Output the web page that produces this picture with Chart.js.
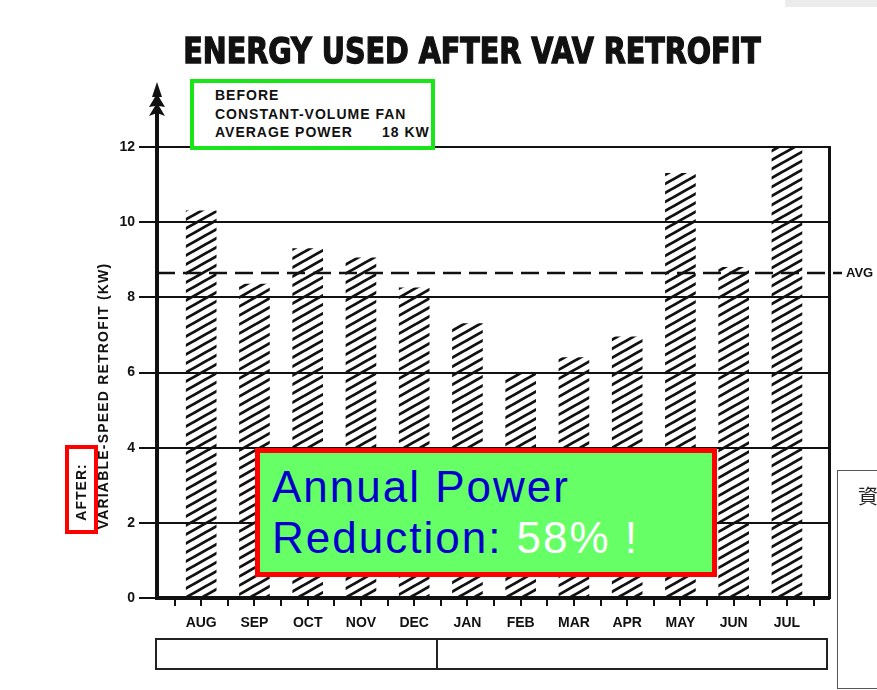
<!DOCTYPE html>
<html>
<head>
<meta charset="utf-8">
<script src="https://cdn.jsdelivr.net/npm/chart.js@4.4.1/dist/chart.umd.min.js"></script>
<style>
  body { margin: 0; width: 877px; height: 690px; overflow: hidden; position: relative; background: #fff;
         font-family: "Liberation Sans", Arial, sans-serif; color: #111; }
  canvas { position: absolute; left: 0; top: 0; }
  .abs { position: absolute; white-space: nowrap; }
  #title { left: 472px; top: 33px; font: bold 36px "DejaVu Sans", sans-serif; line-height: 36px;
           -webkit-text-stroke: 1.4px #111; transform-origin: 50% 50%; }
  .scan { font-weight: bold; font-size: 14px; line-height: 14px; letter-spacing: 1px; }
  #before { left: 190px; top: 79px; width: 237px; height: 63px; border: 4px solid #19e619; background: #fff; }
  #yTitle { left: 103px; top: 396px; letter-spacing: 1.2px; transform: translate(-50%, -50%) rotate(-90deg); }
  #after { left: 81px; top: 492px; transform: translate(-50%, -50%) rotate(-90deg); }
  #afterBox { left: 65px; top: 445px; width: 25px; height: 81px; border: 4px solid #f00; }
  #note { left: 255px; top: 448px; width: 452px; height: 119px; border: 5px solid #f00; background: #66ff66; }
  .big { font-size: 44px; line-height: 44px; letter-spacing: 2px; color: #0000cc; }
  #months { left: 155px; top: 638px; width: 669px; height: 28px; border: 2px solid #222; }
  #months div { position: absolute; left: 279px; top: 0; width: 2px; height: 28px; background: #222; }
  #side { left: 837px; top: 470px; width: 60px; height: 217px; border: 1px solid #555; }
  #side span { position: absolute; left: 20px; top: 10px; font: 20px "Noto Sans CJK TC", sans-serif; color: #222; }
  #strip { left: 785px; top: 0; width: 92px; height: 7px; background: #ececec; }
</style>
</head>
<body>
<canvas id="energyChart" width="877" height="690"></canvas>

<div class="abs" id="strip"></div>
<div class="abs" id="title">ENERGY USED AFTER VAV RETROFIT</div>

<div class="abs" id="before"></div>
<div class="abs scan" style="left:215px; top:88px;">BEFORE</div>
<div class="abs scan" style="left:215px; top:107px;">CONSTANT-VOLUME FAN</div>
<div class="abs scan" style="left:215px; top:125px;">AVERAGE POWER</div>
<div class="abs scan" style="left:382px; top:125px;">18 KW</div>

<div class="abs scan" id="yTitle">VARIABLE-SPEED RETROFIT (KW)</div>
<div class="abs" id="afterBox"></div>
<div class="abs scan" id="after">AFTER:</div>

<div class="abs" id="note"></div>
<div class="abs big" style="left:272px; top:465px;">Annual Power</div>
<div class="abs big" style="left:272px; top:516px;">Reduction: <span style="color:#fff;">58% !</span></div>

<div class="abs" id="months"><div></div></div>
<div class="abs" id="side"><span>資</span></div>

<script>
// data
const months = ['AUG', 'SEP', 'OCT', 'NOV', 'DEC', 'JAN', 'FEB', 'MAR', 'APR', 'MAY', 'JUN', 'JUL'];
const afterKw = [10.3, 8.35, 9.3, 9.05, 8.25, 7.3, 6.0, 6.4, 6.95, 11.3, 8.8, 12.0];
const avgKw = 8.65;
const yTickValues = [0, 2, 4, 6, 8, 10, 12];

// squeeze the heavy title to its printed width
const title = document.getElementById('title');
const sx = 577 / title.offsetWidth;
title.style.transform = 'translateX(-50%) scaleX(' + sx + ')';

// diagonal hatch fill for the bars
function hatchPattern() {
    const w = 16, h = 9;
    const c = document.createElement('canvas');
    c.width = w;
    c.height = h;
    const g = c.getContext('2d');
    g.strokeStyle = '#111';
    g.lineWidth = 2.8;
    for (let k = -1; k <= 1; k++) {
        g.beginPath();
        g.moveTo(-2, h + k * h + 2 * h / w);
        g.lineTo(w + 2, k * h - 2 * h / w);
        g.stroke();
    }
    return g.createPattern(c, 'repeat');
}

// tree-like arrow on top of the y axis
const axisArrow = {
    id: 'axisArrow',
    afterDraw(chart) {
        const { ctx, chartArea } = chart;
        const x = chartArea.left, top = chartArea.top;
        ctx.save();
        ctx.strokeStyle = '#111';
        ctx.lineWidth = 4;
        ctx.beginPath();
        ctx.moveTo(x, top);
        ctx.lineTo(x, top - 45);
        ctx.stroke();
        ctx.fillStyle = '#111';
        ctx.beginPath();
        const pts = [[0, -65], [5, -50], [2, -50], [8, -40], [2, -41], [8, -31], [0, -34],
                     [-8, -31], [-2, -41], [-8, -40], [-2, -50], [-5, -50]];
        pts.forEach((p, i) => i ? ctx.lineTo(x + p[0], top + p[1]) : ctx.moveTo(x + p[0], top + p[1]));
        ctx.closePath();
        ctx.fill();
        ctx.restore();
    }
};

// dashed average line, running past the frame with its label
const avgLine = {
    id: 'avgLine',
    afterDatasetsDraw(chart) {
        const { ctx, chartArea, scales } = chart;
        const y = scales.y.getPixelForValue(avgKw);
        ctx.save();
        ctx.strokeStyle = '#111';
        ctx.lineWidth = 2.5;
        ctx.setLineDash([18, 8]);
        ctx.beginPath();
        ctx.moveTo(chartArea.left, y);
        ctx.lineTo(chartArea.right + 13, y);
        ctx.stroke();
        ctx.setLineDash([]);
        ctx.fillStyle = '#111';
        ctx.font = 'bold 13px "Liberation Sans", Arial, sans-serif';
        ctx.textBaseline = 'middle';
        ctx.fillText('AVG', chartArea.right + 17, y + 1);
        ctx.restore();
    }
};

const tickFont = { family: '"Liberation Sans", Arial, sans-serif', size: 14, weight: 'bold' };

const ctx = document.getElementById('energyChart').getContext('2d');

const energyChart = new Chart(ctx, {
    type: 'bar',
    data: {
        datasets: [{
            label: 'After: variable-speed retrofit (kW)',
            data: afterKw.map((v, i) => ({ x: i, y: v })),
            backgroundColor: hatchPattern(),
            borderWidth: 0,
            barThickness: 30
        }]
    },
    options: {
        responsive: false,
        animation: false,
        layout: { padding: { top: 147, right: 48, bottom: 0, left: 0 } },
        plugins: {
            legend: { display: false },
            tooltip: { enabled: false }
        },
        scales: {
            x: {
                type: 'linear',
                offset: false,
                min: -0.83,
                max: 11.79,
                afterFit: (s) => { s.height = 92; },
                afterBuildTicks: (s) => {
                    const t = [{ value: -0.5 }];
                    months.forEach((m, i) => { t.push({ value: i }, { value: i + 0.5 }); });
                    s.ticks = t;
                },
                grid: { drawOnChartArea: false, offset: false, color: '#111', lineWidth: 2, tickLength: 8 },
                border: { color: '#111', width: 4 },
                ticks: {
                    autoSkip: false, maxRotation: 0, minRotation: 0, padding: 9,
                    color: '#111', font: tickFont,
                    callback: (v) => Number.isInteger(v) ? (months[v] || '') : ''
                }
            },
            y: {
                min: 0,
                max: 12,
                afterFit: (s) => { s.width = 157; },
                afterBuildTicks: (s) => { s.ticks = yTickValues.map(v => ({ value: v })); },
                grid: { color: '#111', lineWidth: 2, tickLength: 18 },
                border: { color: '#111', width: 4 },
                ticks: { padding: 4, color: '#111', font: tickFont }
            },
            yR: {
                position: 'right',
                min: 0,
                max: 12,
                afterFit: (s) => { s.width = 0; },
                grid: { display: false },
                ticks: { display: false },
                border: { color: '#111', width: 3 }
            }
        }
    },
    plugins: [axisArrow, avgLine]
});
</script>
</body>
</html>
